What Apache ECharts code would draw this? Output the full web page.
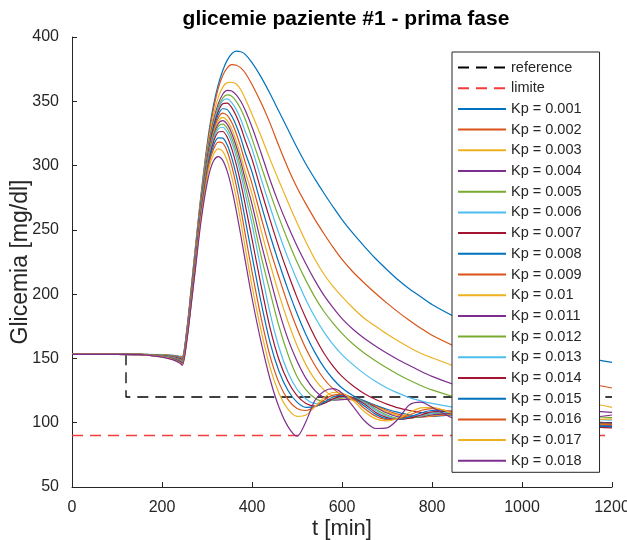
<!DOCTYPE html>
<html><head><meta charset="utf-8">
<script src="https://cdn.jsdelivr.net/npm/echarts@6/dist/echarts.min.js"></script>
<style>html,body{margin:0;padding:0;background:#fff}#c{width:627px;height:540px}</style>
</head><body><div id="c"></div>
<script>
// time grid [min]
const times = [0,100,150,200,225,240,245,255,265,275,285,295,305,315,325,335,345,355,365,375,385,400,420,440,460,480,500,520,540,560,580,600,625,650,675,700,725,750,775,800,850,900,1000,1100,1200];

const kpLabels = ['Kp = 0.001','Kp = 0.002','Kp = 0.003','Kp = 0.004','Kp = 0.005','Kp = 0.006','Kp = 0.007','Kp = 0.008','Kp = 0.009','Kp = 0.01','Kp = 0.011','Kp = 0.012','Kp = 0.013','Kp = 0.014','Kp = 0.015','Kp = 0.016','Kp = 0.017','Kp = 0.018'];

const glic1 = [153.2,153.2,153.2,152.9,152.3,151.7,151.5,172,205,239,272,302,328,348,363,374,382,387,389,388.5,386.5,380,369,356,342,328,314,301,289.5,278.5,268,258,247,237,227.5,219,211,204,198,192,182.5,174,161,153,147];
const glic2 = [153.2,153.2,153.2,152.8,152.1,151.4,151.1,171.5,204.2,238,271,300,325,345,360,370,376,378.5,378,376,372,363,349,333,315,298,283,270,258,247,236.5,227,217,208.5,200.5,193,186,179.5,173.5,168,159.5,152,142,134,127];
const glic3 = [153.2,153.2,153.2,152.7,151.9,151.1,150.7,171,203.5,237,270,298,322,340,353,361,364.5,364.8,363.5,359,352,340,323,305,288,271.5,255.5,240.5,227,215.5,206,198,189,181,175,169,163.5,158.5,154,150.5,144,138.5,128,119,112];
const glic4 = [153.2,153.2,153.2,152.6,151.7,150.7,150.3,170.5,202.7,236,268.5,296,319,336,348,355.5,358.5,358,355,350,343,330,310,289,270,253,237.5,223.5,210.5,199,189.5,181,172.5,165.5,159.5,154,149,144.5,140,136,129.5,124,116,111,108];
const glic5 = [153.2,153.2,153.2,152.5,151.5,150.4,149.9,170,202,235,267.5,295,317.5,334,345.5,352.5,355,354,350,344,336,321,300,279,259.5,241.5,225,210.5,197.5,186.5,177.5,169.5,161,154,148,142.5,137.5,133,129,125.5,120,115.5,109.5,106,104];
const glic6 = [153.2,153.2,153.2,152.4,151.3,150.1,149.5,169.5,201.2,234,266.5,293.5,316,332.5,344,350.5,351.8,349,343.5,336,326.5,313,290,268,247,228,211,195.5,182,170.5,161,153,145,138,132,127,123,119.5,117,115,112,109.5,106,103.5,102];
const glic7 = [153.2,153.2,153.1,152.2,151.1,149.8,149.1,169,200.4,233,265.5,292,314.5,331,342,348,348.5,345,338.5,330,319.5,305,281,258,236,216,197.5,181,166.5,154,144,136,128.5,122.5,118,114.5,111.5,109.5,108,107,106.5,106,104,101.5,100];
const glic8 = [153.2,153.2,153.1,152.1,150.9,149.5,148.7,168.5,199.7,232,264.5,290.5,313,329,339.5,344.2,343.5,338.5,331,321.5,310,295,270,246,224,203.5,185,168.5,154.5,143,134,127,121,117,113.5,110.5,108,106,105,105,106,106,104,101,99.5];
const glic9 = [153.2,153.2,153.1,152.0,150.7,149.1,148.3,168,198.9,231,263.5,289,311.5,327,337,340.8,339,333.5,325,314.5,302.5,286,260,235,213,192,173.5,157.5,144.5,134,126.5,121.5,118,116,113,109.5,106.5,105,104.5,105,106.5,106.5,103.5,100.5,98.5];
const glic10 = [153.2,153.2,153.1,151.9,150.5,148.8,147.9,167.5,198.1,230,262.5,288,310,325.5,334.5,337.5,335,328.5,319,307.5,295,278,250,224,200,178.5,160,145,133.5,125.5,120.5,118.5,117.5,116,112.5,108.5,105.5,104.5,104.5,105.5,107,106.5,103,100,98];
const glic11 = [153.2,153.2,153.1,151.8,150.3,148.5,147.5,167,197.4,229,261.5,287,309,324,332.5,335,332,325,315,303,289.5,270,240,213,187,165,148,134.5,125,119.5,117.5,118,118.5,116.5,112,107.5,104.5,104,104.5,106,107.5,106.5,102.5,99.5,97.5];
const glic12 = [153.2,153.2,153.1,151.7,150.1,148.2,147.1,166.5,196.6,228,260.5,286,308,322.5,330.5,332.3,329,321.5,311,298.5,284,262,230,202,175,153,136,125.5,119,116.5,117.5,119.5,119.5,116,110.5,106,103.5,103.5,105,107,108,106.5,102,99,97];
const glic13 = [153.2,153.2,153.0,151.6,149.9,147.9,146.7,166,195.8,227,259.5,285,307,321,328.5,329.8,326,318,307,293.5,278,254.5,219,185.5,158.5,139,126,118.5,115,115.5,118,120,119.5,115.5,109.5,105,103,103.5,105.5,107.5,108.5,106.5,101.5,98.5,96.5];
const glic14 = [153.2,153.2,153.0,151.5,149.7,147.5,146.3,165.5,195,226,258.5,283.5,305.5,319,326,326.5,322,313,301,286.5,269.5,243,207,174,149,132,121,115,113,115,118.5,120.5,119.5,114.5,108,104,102.5,103.5,106,108.5,109,106,101,98,96];
const glic15 = [153.2,153.2,153.0,151.4,149.5,147.2,145.9,165,194.3,225,257,282,304,316,321.5,321.3,316,306,292.5,276.5,258,230,194,162.5,140,125,116,112,112.5,116,120,121.5,119,113,106.5,103,102.5,104.5,107.5,109.5,108.5,105,101,98.5,97];
const glic16 = [153.2,153.2,153.0,151.3,149.3,146.9,145.5,164.5,193.5,224,256,280.5,302,313,318.3,317.5,311,299.5,284.5,266.5,246.5,217.5,182,152,131,118,111,109.5,112.5,117.5,121.5,122,118.5,111,105,102.5,103,106,109.5,111,108,104,103,100,99];
const glic17 = [153.2,153.2,153.0,151.2,149.1,146.6,145.1,164,192.8,223,254,278.5,299,309,313,311,303.5,291,275,256.5,236,206.5,172,143,123,110.5,105,106,112.5,119.5,123.5,123,117,108.5,103,101.5,103.5,108,111.5,112,107,103,106,102,103];
const glic18 = [153.2,153.2,153.0,151.0,148.9,146.3,144.7,163,192,222,252,276,294,304,307,304,295.5,282,265,246,226,197,163,134,112,97,89.5,101,117.5,124.5,126.5,123,112.5,101.5,95.5,96,103,114,116,112,103,100,109,103,106];

const refT = [0,120,120,1200];
const refV = [153.2,153.2,120,120];
const limT = [0,1200];
const limV = [90,90];

const glicAll = [glic1,glic2,glic3,glic4,glic5,glic6,glic7,glic8,glic9,glic10,glic11,glic12,glic13,glic14,glic15,glic16,glic17,glic18];
const palette = ['#0072BD','#D95319','#EDB120','#7E2F8E','#77AC30','#4DBEEE','#A2142F'];
const FONT = 'Liberation Sans, Arial, Helvetica, sans-serif';
const AX = '#262626';
const RED = '#F23C3C';

const zip = (t, v) => t.map((x, i) => [x, v[i]]);

const series = [
  {name:'reference', type:'line', data: zip(refT, refV), symbol:'none', lineStyle:{color:'#000', width:1.3, type:[11,7]}, itemStyle:{color:'#000'}},
  {name:'limite', type:'line', data: zip(limT, limV), symbol:'none', lineStyle:{color:RED, width:1.5, type:[11,7], opacity:1}, itemStyle:{color:RED}}
];
glicAll.forEach((arr, i) => {
  const c = palette[i % 7];
  series.push({name: kpLabels[i], type:'line', data: zip(times, arr), symbol:'none', smooth:0.3,
    lineStyle:{color:c, width:1.2}, itemStyle:{color:c}});
});

const chart = echarts.init(document.getElementById('c'), null, {renderer:'canvas'});
chart.setOption({
  animation:false,
  backgroundColor:'#fff',
  title:{text:'glicemie paziente #1 - prima fase', left:341, textAlign:'center', top:4,
    textStyle:{fontFamily:FONT, fontSize:21, fontWeight:'bold', color:'#000'}},
  grid:{left:72, right:15, top:37, bottom:53, containLabel:false, outerBoundsMode:'none'},
  legend:{orient:'vertical', left:452, top:52, itemWidth:48, itemHeight:14, itemGap:5.7,
    padding:[8,18,4,5], backgroundColor:'#fff', borderColor:AX, borderWidth:1, borderRadius:0,
    selectedMode:false, itemStyle:{opacity:0},
    textStyle:{fontFamily:FONT, fontSize:14.5, color:AX},
    data:['reference','limite'].concat(kpLabels)},
  xAxis:{type:'value', min:0, max:1200, interval:200,
    name:'t [min]', nameLocation:'middle', nameGap:31, nameMoveOverlap:false,
    nameTextStyle:{fontFamily:FONT, fontSize:22, color:AX},
    axisLine:{show:true, lineStyle:{color:AX, width:1}},
    axisTick:{show:true, inside:true, length:5, lineStyle:{color:AX}},
    axisLabel:{fontFamily:FONT, fontSize:16, color:AX, margin:13, formatter: v => String(v)},
    splitLine:{show:false}},
  yAxis:{type:'value', min:50, max:400, interval:50,
    name:'Glicemia [mg/dl]', nameLocation:'middle', nameGap:40, nameMoveOverlap:false,
    nameTextStyle:{fontFamily:FONT, fontSize:23, color:AX},
    axisLine:{show:true, lineStyle:{color:AX, width:1}},
    axisTick:{show:true, inside:true, length:5, lineStyle:{color:AX}},
    axisLabel:{fontFamily:FONT, fontSize:16, color:AX, margin:13, formatter: v => String(v)},
    splitLine:{show:false}},
  series: series
});
</script></body></html>
